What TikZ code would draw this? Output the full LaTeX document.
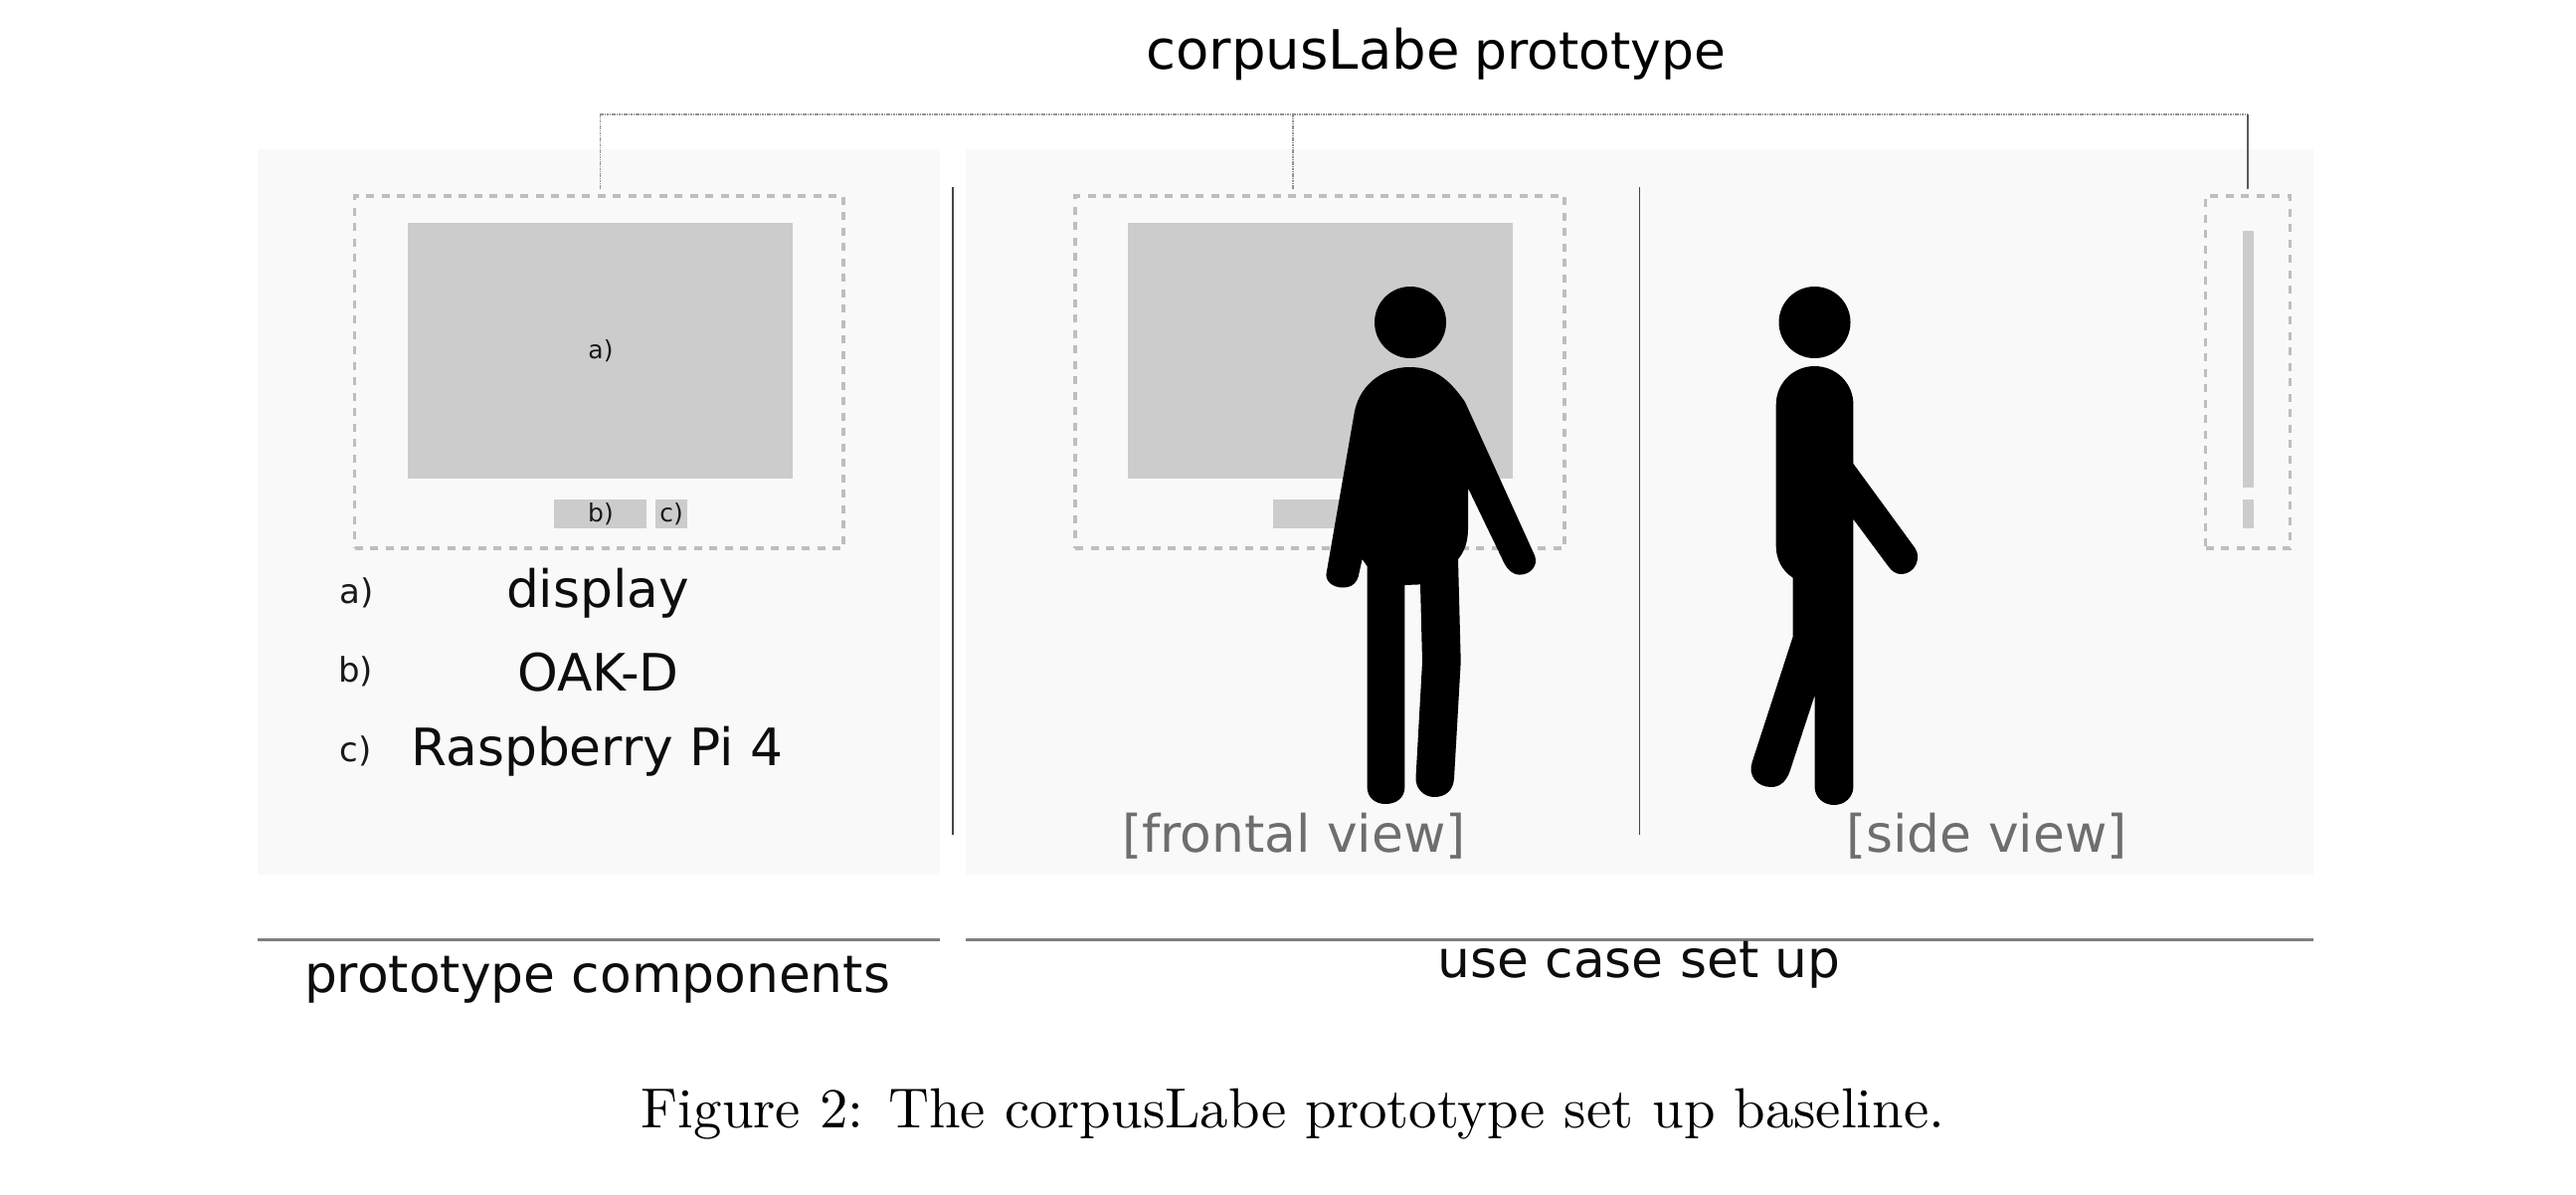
\documentclass[tikz,border=0pt]{standalone}
\usepackage{xcolor}
\usepackage{fontspec}
\usepackage{tikz}
\setsansfont{DejaVu Sans}
\usetikzlibrary{positioning}
\definecolor{panelgrey}{RGB}{249,249,249}
\definecolor{screengrey}{RGB}{204,204,204}
\definecolor{dashgrey}{RGB}{190,190,190}
\definecolor{rulegrey}{RGB}{128,128,128}
\definecolor{sepgrey}{RGB}{70,70,70}
\definecolor{viewgrey}{RGB}{110,110,110}
\newcommand{\bigsf}{\sffamily\fontsize{51.8}{60}\selectfont}
\newcommand{\midsf}{\sffamily\fontsize{34}{40}\selectfont}
\newcommand{\smallsf}{\sffamily\fontsize{25}{30}\selectfont}
\tikzset{
  panelbox/.style={fill=panelgrey, anchor=north west, inner sep=0pt, outer sep=0pt},
  partbox/.style={fill=screengrey, anchor=north west, inner sep=0pt, outer sep=0pt},
  dashbox/.style={draw=dashgrey, line width=3.6pt, dash pattern=on 8pt off 7.5pt, anchor=north west, inner sep=0pt, outer sep=0pt},
  busdot/.style={draw=rulegrey!85, line width=1.4pt, dash pattern=on 1.6pt off 0.8pt},
  busline/.style={draw=rulegrey!70!black, line width=1.8pt},
  seprule/.style={draw=sepgrey, line width=1.8pt},
  headrule/.style={draw=rulegrey, line width=3pt},
  label/.style={anchor=base, font=\bigsf, text=black!95},
  keylabel/.style={anchor=base, font=\midsf, text=black!90},
  parttag/.style={anchor=base, font=\smallsf, text=black!90},
  viewlabel/.style={anchor=base, font=\bigsf, text=viewgrey}
}

\begin{document}
\begin{tikzpicture}[x=1pt, y=-1pt]
  \useasboundingbox (0,0) rectangle (2590,1200);

  % panels
  \node[panelbox, minimum width=686pt, minimum height=729pt] (comppanel) at (259,150) {};
  \node[panelbox, minimum width=1355pt, minimum height=729pt] (usepanel) at (971,150) {};

  % components
  \node[partbox, minimum width=387pt, minimum height=257pt] (display) at (410,224) {};
  \node[parttag] (displaytag) at (604,360.5) {a)};
  \node[partbox, minimum width=93pt, minimum height=29pt] (oak) at (557,502) {};
  \node[parttag] (oaktag) at (604,524) {b)};
  \node[partbox, minimum width=32pt, minimum height=29pt] (pi) at (659,502) {};
  \node[parttag] (pitag) at (675,524) {c)};
  \node[dashbox, minimum width=491.5pt, minimum height=354pt] (compbox) at (356.5,197) {};

  \node[keylabel] (keya) at (358.5,606.5) {a)};
  \node[label] (keydisplay) at (601,610.5) {display};
  \node[keylabel] (keyb) at (357.5,685.5) {b)};
  \node[label] (keyoak) at (601.5,694) {OAK-D};
  \node[keylabel] (keyc) at (357.5,765.5) {c)};
  \node[label] (keypi) at (600.5,769) {Raspberry Pi 4};

  % frontal view
  \node[partbox, minimum width=387pt, minimum height=257pt] (frontscreen) at (1134,224) {};
  \node[partbox, minimum width=93pt, minimum height=29pt] (frontoak) at (1280,502) {};
  \node[dashbox, minimum width=492pt, minimum height=354pt] (frontbox) at (1081,197) {};
  \fill[black] (1418,324) circle (36);
  \fill[black] (1473,404) .. controls (1455,378) and (1440,369) .. (1417,369)
    .. controls (1392,369) and (1368,385) .. (1362,413) -- (1334,574)
    .. controls (1331,584) and (1340,590.5) .. (1350,590.5)
    .. controls (1360,590.5) and (1365,585) .. (1366.5,576)
    -- (1369.6,562) -- (1374.5,569) -- (1374.5,790.5)
    .. controls (1374.5,802) and (1383,808) .. (1393,808)
    .. controls (1404,808) and (1412.4,802) .. (1412.4,790.5)
    -- (1412.4,588) -- (1428,587.4) -- (1430,665) -- (1423.5,781.6)
    .. controls (1423,793) and (1432,801) .. (1442,801)
    .. controls (1453,801) and (1461,795) .. (1462,782.5)
    -- (1468.7,665) -- (1466,562)
    .. controls (1472,555) and (1476,545) .. (1476,531.6)
    -- (1476,490.5) -- (1510,561)
    .. controls (1514,571) and (1520,577.6) .. (1528,577.6)
    .. controls (1538,577.6) and (1544.5,570) .. (1544,563)
    .. controls (1544,560) and (1543,558) .. (1542,556) -- cycle;
  \node[viewlabel] (frontlabel) at (1301,856) {[frontal view]};

  % side view
  \fill[black] (1824.5,324) circle (36);
  \fill[black] (1863.4,406.6) .. controls (1863.4,385) and (1846,368) .. (1824.5,368)
    .. controls (1803,368) and (1785.7,385) .. (1785.7,406.6) -- (1785.7,549.5)
    .. controls (1785.7,562) and (1792,574) .. (1802.7,580.7)
    -- (1802.7,639.6) -- (1761.6,766)
    .. controls (1757,780) and (1767,791) .. (1780.8,791)
    .. controls (1790,791) and (1796,785) .. (1799.6,775)
    -- (1824.5,699) -- (1824.5,790.5)
    .. controls (1824.5,801) and (1833,809) .. (1843.8,809)
    .. controls (1855,809) and (1863.4,801) .. (1863.4,790.5)
    -- (1863.4,521.8) -- (1898.2,568.7)
    .. controls (1902,574) and (1906,577) .. (1911.2,577)
    .. controls (1921,577) and (1928,569) .. (1928,560)
    .. controls (1928,556) and (1927,553) .. (1925.4,550.8)
    -- (1863.4,466) -- cycle;
  \node[viewlabel] (sidelabel) at (1997.5,856) {[side view]};
  \node[partbox, minimum width=11.5pt, minimum height=258pt] (sidescreen) at (2254.5,232) {};
  \node[partbox, minimum width=11.5pt, minimum height=29pt] (sideoak) at (2254.5,502) {};
  \node[dashbox, minimum width=85pt, minimum height=354pt] (sidebox) at (2217.5,197) {};

  % separators
  \coordinate (septopa) at (958,188);
  \coordinate (sepbota) at (958,839);
  \coordinate (septopb) at (1648.5,188);
  \coordinate (sepbotb) at (1648.5,839);
  \draw[seprule] (septopa) -- (sepbota);
  \draw[seprule] (septopb) -- (sepbotb);

  % prototype bus
  \node[anchor=base west, font=\sffamily\fontsize{54.5}{60}\selectfont, text=black] (titlea) at (1149,69.5) {corpusLabe};
  \node[anchor=base west, font=\bigsf, text=black] (titleb) at (1479,69.5) {prototype};
  \coordinate (busend) at (2260,115);
  \coordinate (comptap) at (603.5,197);
  \coordinate (fronttap) at (1300,197);
  \draw[busdot, shorten <=7pt] (comptap) |- (busend);
  \draw[busdot, shorten <=7pt] (fronttap) -- (fronttap |- busend);
  \draw[busline, shorten >=7pt] (busend) -- (busend |- sidebox.north);

  % headings
  \coordinate (rulea) at (259,944);
  \coordinate (ruleb) at (945,944);
  \coordinate (rulec) at (971,944);
  \coordinate (ruled) at (2326,944);
  \draw[headrule] (rulea) -- (ruleb);
  \draw[headrule] (rulec) -- (ruled);
  \node[label] (comphead) at (600.5,997.5) {prototype components};
  \node[label] (usehead) at (1648,982.5) {use case set up};

  \node[anchor=base, inner sep=0pt] (caption) at (1300,1133) {\resizebox{1310pt}{!}{Figure 2: The corpusLabe prototype set up baseline.}};
\end{tikzpicture}
\end{document}
